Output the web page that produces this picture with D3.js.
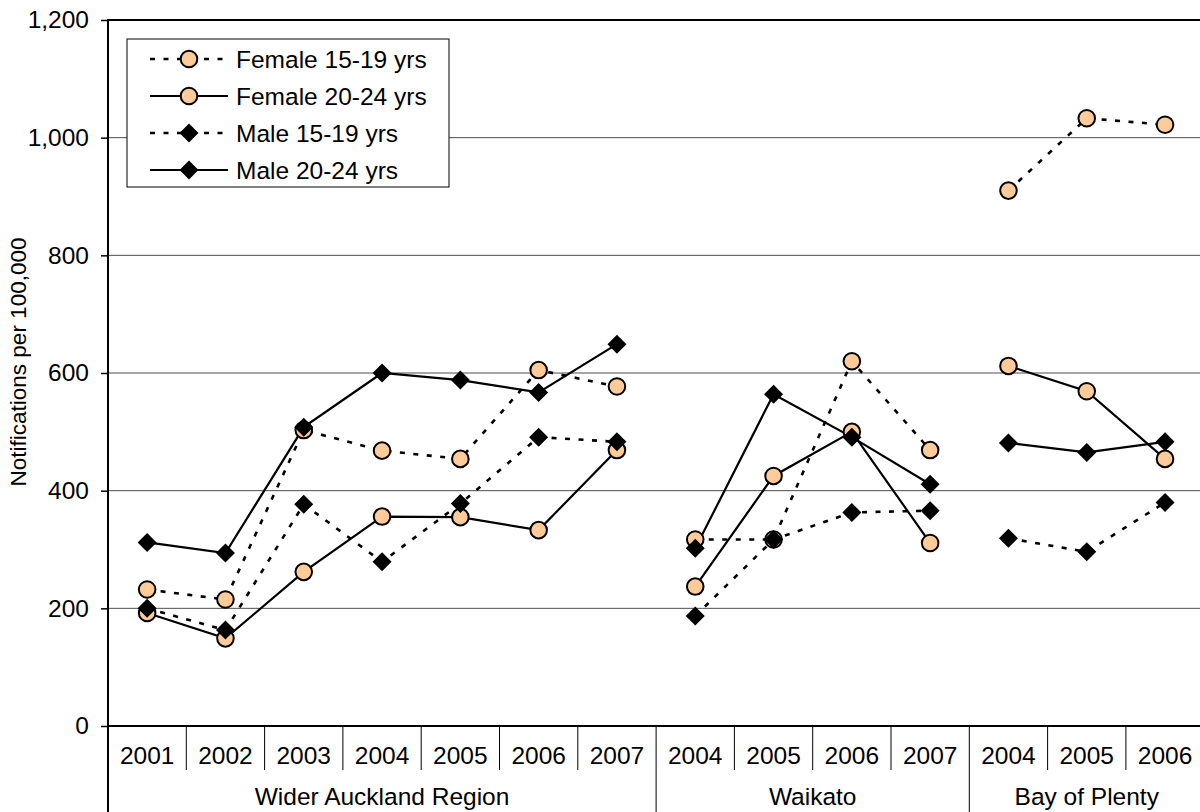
<!DOCTYPE html>
<html>
<head>
<meta charset="utf-8">
<script src="https://cdn.jsdelivr.net/npm/d3@7/dist/d3.min.js"></script>
<style>
  html, body { margin: 0; padding: 0; background: #fff; }
  svg { display: block; font-family: "Liberation Sans", Arial, sans-serif; }
</style>
</head>
<body>
<svg id="chart" width="1200" height="812"></svg>
<script>
// Year columns along the x axis, grouped by region
const years = ["2001", "2002", "2003", "2004", "2005", "2006", "2007",
               "2004", "2005", "2006", "2007",
               "2004", "2005", "2006"];
const regions = ["Wider Auckland Region", "Waikato", "Bay of Plenty"];
const regionSizes = [7, 4, 3];

// Notifications per 100,000 for each series
const female1519 = [232, 215, 503, 468, 454, 605, 577, 317, 317, 620, 469, 910, 1033, 1022];
const female2024 = [192, 149, 262, 356, 355, 333, 469, 237, 425, 500, 311, 612, 569, 454];
const male1519   = [200, 163, 377, 279, 378, 491, 483, 187, 317, 363, 366, 319, 296, 380];
const male2024   = [312, 294, 508, 600, 588, 567, 649, 302, 564, 491, 411, 481, 465, 483];

const seriesNames = ["Female 15-19 yrs", "Female 20-24 yrs", "Male 15-19 yrs", "Male 20-24 yrs"];
const yTicks = [0, 200, 400, 600, 800, 1000, 1200];

const series = [
  { name: seriesNames[0], values: female1519, dashed: true,  marker: "circle"  },
  { name: seriesNames[1], values: female2024, dashed: false, marker: "circle"  },
  { name: seriesNames[2], values: male1519,   dashed: true,  marker: "diamond" },
  { name: seriesNames[3], values: male2024,   dashed: false, marker: "diamond" }
];

const svg = d3.select("#chart");
const plotL = 108, plotR = 1204.2, plotT = 20, plotB = 726;
const font = 24.5;

const x = d3.scaleBand().domain(d3.range(years.length)).range([plotL, plotR]).padding(0);
const y = d3.scaleLinear().domain([0, 1200]).range([plotB, plotT]);

// Horizontal gridlines
svg.append("g").selectAll("line")
  .data(yTicks.filter(v => v > 0 && v < 1200))
  .join("line")
  .attr("x1", plotL).attr("x2", plotR)
  .attr("y1", d => y(d)).attr("y2", d => y(d))
  .attr("stroke", "#4d4d4d").attr("stroke-width", 1);

// Top border of the plot area
svg.append("line")
  .attr("x1", plotL).attr("x2", plotR)
  .attr("y1", y(1200)).attr("y2", y(1200))
  .attr("stroke", "#000").attr("stroke-width", 2);

// Y axis
const yAxis = svg.append("g")
  .attr("transform", `translate(${plotL},0)`)
  .call(d3.axisLeft(y).tickValues(yTicks).tickFormat(d3.format(",")).tickSize(7).tickSizeOuter(0).tickPadding(12));
yAxis.select(".domain").remove();
yAxis.selectAll(".tick line").attr("stroke", "#000").attr("stroke-width", 1.5);
yAxis.selectAll(".tick text").attr("font-size", font).attr("fill", "#000")
  .attr("font-family", "Liberation Sans, Arial, sans-serif");

// Y axis line, extended down through the category label rows
svg.append("line")
  .attr("x1", plotL).attr("x2", plotL).attr("y1", plotT - 1).attr("y2", 812)
  .attr("stroke", "#000").attr("stroke-width", 2);

// Baseline
svg.append("line")
  .attr("x1", plotL).attr("x2", plotR).attr("y1", plotB).attr("y2", plotB)
  .attr("stroke", "#000").attr("stroke-width", 2);

// Y axis title
svg.append("text")
  .attr("transform", `translate(26,362) rotate(-90)`)
  .attr("text-anchor", "middle")
  .attr("font-size", 22.5)
  .text("Notifications per 100,000");

// Region boundaries (index of first column in each region)
const starts = [];
let acc = 0;
regionSizes.forEach(n => { starts.push(acc); acc += n; });

// Year separators and labels
const sepG = svg.append("g");
d3.range(1, years.length).forEach(i => {
  const isRegion = starts.includes(i);
  sepG.append("line")
    .attr("x1", x(i)).attr("x2", x(i))
    .attr("y1", plotB).attr("y2", isRegion ? 812 : 770)
    .attr("stroke", "#000").attr("stroke-width", 1);
});
svg.append("g").selectAll("text")
  .data(years)
  .join("text")
  .attr("x", (d, i) => x(i) + x.bandwidth() / 2)
  .attr("y", 764)
  .attr("text-anchor", "middle")
  .attr("font-size", font)
  .text(d => d);

// Region labels
svg.append("g").selectAll("text")
  .data(regions)
  .join("text")
  .attr("x", (d, i) => (x(starts[i]) + x(starts[i] + regionSizes[i] - 1) + x.bandwidth()) / 2)
  .attr("y", 805)
  .attr("text-anchor", "middle")
  .attr("font-size", font)
  .text(d => d);

// Series lines (broken between regions)
const line = d3.line().x(d => x(d.i) + x.bandwidth() / 2).y(d => y(d.v));
const dash = "5,8.5";
series.forEach(s => {
  regionSizes.forEach((n, r) => {
    const pts = d3.range(starts[r], starts[r] + n).map(i => ({ i, v: s.values[i] }));
    svg.append("path")
      .attr("d", line(pts))
      .attr("fill", "none")
      .attr("stroke", "#000")
      .attr("stroke-width", s.dashed ? 2.6 : 2.2)
      .attr("stroke-dasharray", s.dashed ? dash : null);
  });
});

// Markers
function drawMarker(g, type, cx, cy) {
  if (type === "circle") {
    g.append("circle").attr("cx", cx).attr("cy", cy).attr("r", 8.3)
      .attr("fill", "#FFCC99").attr("stroke", "#000").attr("stroke-width", 2);
  } else {
    const h = 9.5;
    g.append("path")
      .attr("d", `M${cx},${cy - h}L${cx + h},${cy}L${cx},${cy + h}L${cx - h},${cy}Z`)
      .attr("fill", "#000");
  }
}
const markG = svg.append("g");
series.forEach(s => {
  s.values.forEach((v, i) => drawMarker(markG, s.marker, x(i) + x.bandwidth() / 2, y(v)));
});

// Legend
const lg = svg.append("g");
lg.append("rect")
  .attr("x", 127).attr("y", 39).attr("width", 322).attr("height", 148)
  .attr("fill", "#fff").attr("stroke", "#000").attr("stroke-width", 1);
const rowY = [59, 96, 133, 170];
series.forEach((s, k) => {
  const ry = rowY[k];
  lg.append("line")
    .attr("x1", 150).attr("x2", 228).attr("y1", ry).attr("y2", ry)
    .attr("stroke", "#000").attr("stroke-width", s.dashed ? 2.6 : 2.2)
    .attr("stroke-dasharray", s.dashed ? dash : null);
  drawMarker(lg, s.marker, 189, ry);
  lg.append("text")
    .attr("x", 236).attr("y", ry).attr("dy", "0.36em")
    .attr("font-size", font)
    .text(s.name);
});
</script>
</body>
</html>
